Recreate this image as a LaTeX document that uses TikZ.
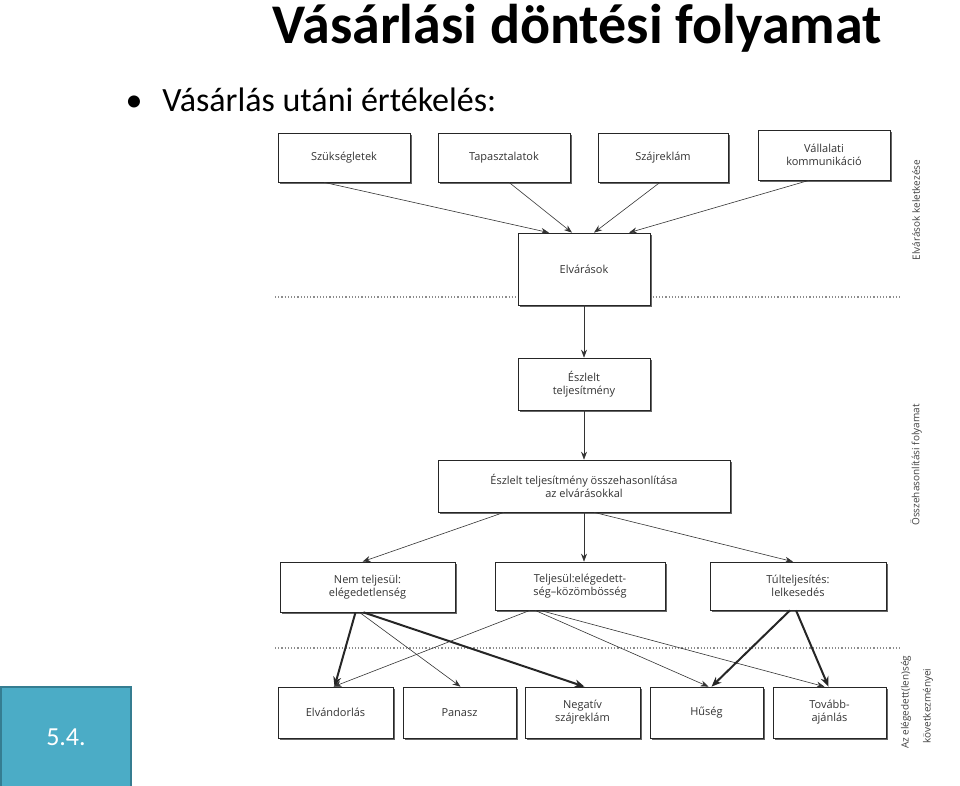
\documentclass[tikz,border=0pt]{standalone}
\usepackage{fontspec}
\setmainfont{Carlito}
\newfontfamily\diafont{Open Sans}
\usetikzlibrary{arrows.meta}
\definecolor{tealbox}{HTML}{4BACC6}
\definecolor{tealedge}{HTML}{357D91}
\tikzset{
  bx/.style={draw=black!85,line width=0.7pt,fill=white,font=\diafont\fontsize{11}{13}\selectfont\color{black!80},align=center,inner sep=0pt},
  shd/.style={draw=black!60,line width=2pt},
  tarr/.style={-{Stealth[length=8pt,width=6pt]},line width=0.6pt,black!80},
  karr/.style={-{Stealth[length=10pt,width=8pt]},line width=2pt,black!85},
  sep/.style={dotted,line width=1.2pt,black!45},
  side/.style={font=\diafont\fontsize{10}{12}\selectfont\color{black!75},rotate=90},
}
\begin{document}
\begin{tikzpicture}[x=1pt,y=-1pt]
\useasboundingbox (0,0) rectangle (960,785);
\clip (0,0) rectangle (960,785);
\node[font=\bfseries\fontsize{56}{60}\selectfont] (title) at (577,28) {Vásárlási döntési folyamat};
\node[font=\fontsize{34}{38}\selectfont,anchor=west] (bul) at (122,100) {•\hspace{20pt}Vásárlás utáni értékelés:};
\node[draw=tealedge,line width=1.5pt,fill=tealbox,minimum width=130,minimum height=100,text=white,font=\fontsize{26}{30}\selectfont] (sec) at (66,737) {5.4.};
\draw[sep] (275,297) -- (900,297);
\draw[sep] (275,648) -- (900,648);
\foreach \n/\xa/\ya/\xb/\yb/\t in {
 a/278/133/410/182/{Szükségletek},
 b/438/133/570/182/{Tapasztalatok},
 c/598/133/728/182/{Szájreklám},
 d/758/130/890/180/{Vállalati\\kommunikáció},
 e/518/233/650/305/{Elvárások},
 f/518/358/650/410/{Észlelt\\teljesítmény},
 g/438/460/730/512/{Észlelt teljesítmény összehasonlítása\\az elvárásokkal},
 h/280/562/455/612/{Nem teljesül:\\elégedetlenség},
 i/495/562/665/610/{Teljesül:elégedett-\\ség–közömbösség},
 j/710/562/886/610/{Túlteljesítés:\\lelkesedés},
 k/278/687/393/738/{Elvándorlás},
 l/403/687/516/738/{Panasz},
 m/525/687/640/738/{Negatív\\szájreklám},
 n/650/687/763/738/{Hűség},
 o/773/687/886/738/{Tovább-\\ajánlás}}{
 \draw[shd] (\xa+2,\yb+1) -- (\xb+1,\yb+1) -- (\xb+1,\ya+2);
 \node[bx,minimum width={\xb-\xa},minimum height={\yb-\ya}] (\n) at ({(\xa+\xb)/2},{(\ya+\yb)/2}) {\t};
}
\node[side] (s1) at (916,210) {Elvárások keletkezése};
\node[side] (s2) at (916,465) {Összehasonlítási folyamat};
\node[side,anchor=east] (s3) at (906,652) {Az elégedett(len)ség};
\node[side,anchor=east] (s4) at (928,665) {következményei};
\draw[tarr] ([xshift=-20pt]a.south) -- ([xshift=-35pt]e.north);
\draw[tarr] ([xshift=5pt]b.south) -- ([xshift=-12pt]e.north);
\draw[tarr] ([xshift=-3pt]c.south) -- ([xshift=10pt]e.north);
\draw[tarr] ([xshift=-15pt]d.south) -- ([xshift=45pt]e.north);
\draw[tarr] (e) -- (f);
\draw[tarr] (f) -- (g);
\draw[tarr] ([xshift=-80pt]g.south) -- ([xshift=-5pt]h.north);
\draw[tarr] (g.south) -- (g.south |- i.north);
\draw[tarr] ([xshift=10pt]g.south) -- ([xshift=-5pt]j.north);
\draw[karr] ([xshift=-12pt]h.south) -- ([xshift=-1pt]k.north);
\draw[tarr] ([xshift=-8pt]h.south) -- ([xshift=1pt]l.north);
\draw[karr] ([xshift=-4pt]h.south) -- ([xshift=2pt]m.north);
\draw[tarr] ([xshift=-50pt]i.south) -- ([xshift=-2pt]k.north);
\draw[tarr] ([xshift=-45pt]i.south) -- ([xshift=2pt]n.north);
\draw[tarr] ([xshift=-40pt]i.south) -- ([xshift=-5pt]o.north);
\draw[karr] ([xshift=-8pt]j.south) -- ([xshift=5pt]n.north);
\draw[karr] ([xshift=-2pt]j.south) -- ([xshift=-1pt]o.north);
\end{tikzpicture}
\end{document}
